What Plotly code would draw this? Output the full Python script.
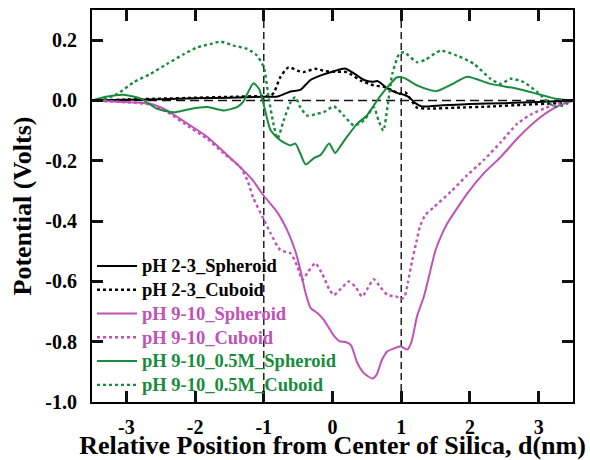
import plotly.graph_objects as go

# ---------------- data ----------------
x_sph23 = [-3.5, -3.0, -2.5, -2.0, -1.5, -1.0, -0.8, -0.61, -0.47, -0.32, -0.17, 0.02, 0.18, 0.31, 0.46, 0.58, 0.66, 0.80, 0.94, 1.05, 1.12, 1.20, 1.30, 1.6, 2.0, 2.5, 3.0, 3.5]
y_sph23 = [0.0, 0.002, 0.004, 0.007, 0.009, 0.012, 0.013, 0.030, 0.035, 0.068, 0.083, 0.097, 0.106, 0.090, 0.068, 0.062, 0.064, 0.040, 0.025, 0.018, 0.010, -0.008, -0.020, -0.016, -0.012, -0.009, -0.005, 0.0]

x_cub23 = [-3.5, -3.0, -2.5, -2.0, -1.5, -1.0, -0.9, -0.85, -0.76, -0.64, -0.51, -0.42, -0.25, -0.10, 0.07, 0.21, 0.41, 0.60, 0.75, 0.90, 0.97, 1.06, 1.14, 1.23, 1.40, 1.8, 2.3, 2.8, 3.27, 3.5]
y_cub23 = [0.0, 0.003, 0.006, 0.009, 0.012, 0.015, 0.016, 0.027, 0.077, 0.110, 0.099, 0.094, 0.105, 0.097, 0.095, 0.094, 0.066, 0.050, 0.045, 0.030, 0.022, 0.027, 0.003, -0.024, -0.027, -0.024, -0.020, -0.014, -0.009, 0.0]

x_sph910 = [-3.5, -3.04, -2.65, -2.41, -2.07, -1.82, -1.58, -1.34, -1.17, -1.0, -0.80, -0.66, -0.54, -0.47, -0.39, -0.32, -0.22, -0.13, -0.05, 0.02, 0.10, 0.20, 0.27, 0.36, 0.46, 0.58, 0.64, 0.72, 0.80, 0.90, 0.99, 1.09, 1.15, 1.23, 1.33, 1.45, 1.50, 1.60, 1.67, 1.96, 2.20, 2.45, 2.71, 3.03, 3.25, 3.5]
y_sph910 = [0.0, -0.005, -0.011, -0.033, -0.083, -0.121, -0.171, -0.222, -0.262, -0.316, -0.372, -0.430, -0.500, -0.560, -0.640, -0.688, -0.705, -0.727, -0.755, -0.780, -0.798, -0.802, -0.812, -0.870, -0.905, -0.922, -0.910, -0.860, -0.832, -0.822, -0.815, -0.826, -0.800, -0.716, -0.650, -0.540, -0.496, -0.440, -0.408, -0.309, -0.242, -0.187, -0.121, -0.055, -0.022, 0.0]

x_cub910 = [-3.5, -3.0, -2.65, -2.41, -2.07, -1.82, -1.58, -1.34, -1.24, -1.15, -1.0, -0.90, -0.76, -0.61, -0.51, -0.44, -0.36, -0.25, -0.15, -0.05, 0.02, 0.12, 0.24, 0.34, 0.43, 0.52, 0.60, 0.70, 0.80, 0.92, 1.01, 1.05, 1.10, 1.16, 1.22, 1.27, 1.35, 1.47, 1.72, 1.96, 2.20, 2.45, 2.69, 2.90, 3.10, 3.30, 3.5]
y_cub910 = [0.0, -0.006, -0.014, -0.038, -0.090, -0.128, -0.176, -0.222, -0.264, -0.325, -0.394, -0.441, -0.496, -0.507, -0.551, -0.595, -0.570, -0.540, -0.575, -0.625, -0.645, -0.625, -0.600, -0.620, -0.650, -0.620, -0.593, -0.620, -0.645, -0.650, -0.658, -0.650, -0.600, -0.530, -0.470, -0.420, -0.380, -0.355, -0.303, -0.248, -0.198, -0.138, -0.077, -0.045, -0.025, -0.010, 0.0]

x_sph05 = [-3.5, -3.3, -3.04, -2.79, -2.55, -2.31, -2.07, -1.82, -1.58, -1.39, -1.30, -1.24, -1.15, -1.07, -1.0, -0.90, -0.76, -0.61, -0.54, -0.47, -0.39, -0.27, -0.17, -0.05, 0.04, 0.12, 0.21, 0.36, 0.50, 0.65, 0.80, 0.94, 1.04, 1.23, 1.40, 1.52, 1.75, 1.96, 2.30, 2.69, 2.98, 3.25, 3.5]
y_sph05 = [0.0, 0.012, 0.019, 0.006, -0.028, -0.039, -0.028, -0.022, -0.033, -0.022, -0.005, 0.022, 0.057, 0.039, -0.015, -0.099, -0.132, -0.149, -0.143, -0.175, -0.212, -0.191, -0.180, -0.143, -0.174, -0.150, -0.121, -0.077, -0.050, 0.000, 0.044, 0.077, 0.075, 0.050, 0.036, 0.031, 0.055, 0.079, 0.055, 0.039, 0.022, 0.006, 0.0]

x_cub05 = [-3.5, -3.35, -3.13, -2.89, -2.65, -2.41, -2.16, -1.97, -1.78, -1.63, -1.44, -1.24, -1.10, -1.0, -0.93, -0.85, -0.80, -0.71, -0.61, -0.54, -0.47, -0.37, -0.22, -0.13, 0.02, 0.165, 0.31, 0.46, 0.60, 0.67, 0.74, 0.80, 0.87, 0.97, 1.04, 1.23, 1.35, 1.57, 1.81, 2.06, 2.30, 2.45, 2.59, 2.78, 2.98, 3.22, 3.35, 3.5]
y_cub05 = [0.0, 0.003, 0.022, 0.061, 0.088, 0.121, 0.154, 0.176, 0.187, 0.195, 0.182, 0.171, 0.149, 0.110, 0.011, -0.088, -0.127, -0.066, -0.006, 0.011, -0.022, -0.050, -0.044, -0.039, -0.020, -0.050, -0.083, -0.066, -0.022, -0.066, -0.100, -0.022, 0.088, 0.154, 0.160, 0.127, 0.135, 0.165, 0.149, 0.121, 0.072, 0.055, 0.072, 0.061, 0.028, -0.020, -0.017, 0.0]

names = ["pH 2-3_Spheroid", "pH 2-3_Cuboid", "pH 9-10_Spheroid", "pH 9-10_Cuboid",
         "pH 9-10_0.5M_Spheroid", "pH 9-10_0.5M_Cuboid"]

# reference lines
zero_x = [-3.5, 3.5]
zero_y = [0.0, 0.0]
boundary_d = [-1.0, 1.0]
y_range = [-1.0, 0.3]
x_range = [-3.5, 3.5]

x_ticks = [-3, -2, -1, 0, 1, 2, 3]
x_ticklabels = ["-3", "-2", "-1", "0", "1", "2", "3"]
x_minor = [-2.5, -1.5, -0.5, 0.5, 1.5, 2.5]
y_ticks = [-1.0, -0.8, -0.6, -0.4, -0.2, 0.0, 0.2]
y_ticklabels = ["-1.0", "-0.8", "-0.6", "-0.4", "-0.2", "0.0", "0.2"]
y_minor = [-0.9, -0.7, -0.5, -0.3, -0.1, 0.1]

# ---------------- style ----------------
BLACK = "#000000"
TICK = "#111111"
MAGENTA = "#c052b6"
GREEN = "#178c3c"
FONT = "Liberation Serif"

fig = go.Figure()

fig.add_trace(go.Scatter(x=zero_x, y=zero_y, mode="lines", showlegend=False,
                         line=dict(color="#111111", width=1.6, dash="9px,5px"), hoverinfo="skip"))
for bd in boundary_d:
    fig.add_trace(go.Scatter(x=[bd, bd], y=y_range, mode="lines", showlegend=False,
                             line=dict(color="#111111", width=1.4, dash="7px,4px"), hoverinfo="skip"))

series = [
    (x_sph23, y_sph23, BLACK, "solid"),
    (x_cub23, y_cub23, BLACK, "dot"),
    (x_sph910, y_sph910, MAGENTA, "solid"),
    (x_cub910, y_cub910, MAGENTA, "dot"),
    (x_sph05, y_sph05, GREEN, "solid"),
    (x_cub05, y_cub05, GREEN, "dot"),
]
for (xs, ys, col, dash), nm in zip(series, names):
    fig.add_trace(go.Scatter(
        x=xs, y=ys, mode="lines",
        name=f"<b><span style='color:{col};font-size:18.5px'>{nm}</span></b>",
        line=dict(color=col, width=2.0 if dash == "solid" else 2.4, dash=dash,
                  shape="spline", smoothing=0.6),
    ))

# primary axes: frame, labels, titles (inside ticks mirrored on all sides)
fig.update_xaxes(
    range=x_range, tickmode="array", tickvals=x_ticks,
    ticktext=[f"<b>{t}</b>" for t in x_ticklabels],
    showline=True, linecolor=BLACK, linewidth=2, mirror="allticks",
    ticks="inside", ticklen=11, tickwidth=3, tickcolor=TICK,
    showgrid=False, zeroline=False, automargin=False,
    ticklabelstandoff=6,
    tickfont=dict(family=FONT, size=20, color="black"),
    title=dict(text="<b>Relative Position from Center of Silica, d(nm)</b>",
               font=dict(family=FONT, size=26, color="black"), standoff=8),
)
fig.update_yaxes(
    range=y_range, tickmode="linear", tick0=0, dtick=0.2,
    showline=True, linecolor=BLACK, linewidth=2, mirror="allticks",
    ticks="inside", ticklen=11, tickwidth=3, tickcolor=TICK,
    showgrid=False, zeroline=False, automargin=False,
    tickvals=y_ticks, ticktext=[f"<b>{t}</b>" for t in y_ticklabels],
    ticklabelstandoff=9,
    tickfont=dict(family=FONT, size=20, color="black"),
    title=dict(text="<b>Potential (Volts)</b>",
               font=dict(family=FONT, size=26, color="black"), standoff=6),
)
fig.update_yaxes(tickmode="array")


# tick-only axes sitting on the frame; their "outside" ticks point into the plot
def tick_axis(over, side, pos, rng, vals, length):
    return dict(overlaying=over, side=side, anchor="free", position=pos, range=rng,
                tickmode="array", tickvals=vals, showticklabels=False,
                showline=False, showgrid=False, zeroline=False, automargin=False,
                ticks="outside", ticklen=length, tickwidth=3, tickcolor=TICK)


fig.update_layout(
    xaxis2=tick_axis("x", "top", 0, x_range, x_ticks, 11),
    xaxis4=tick_axis("x", "top", 0, x_range, x_minor, 7),
    xaxis5=tick_axis("x", "bottom", 1, x_range, x_minor, 6),
    yaxis2=tick_axis("y", "right", 0, y_range, y_ticks, 11),
    yaxis4=tick_axis("y", "right", 0, y_range, y_minor, 8),
    yaxis5=tick_axis("y", "left", 1, y_range, y_minor, 11),
)

fig.update_layout(
    width=590, height=460,
    margin=dict(l=92, r=17, t=10, b=58),
    paper_bgcolor="white", plot_bgcolor="rgba(0,0,0,0)",
    font=dict(family=FONT, color="black"),
    showlegend=True,
    legend=dict(
        x=0.0, y=0.0, xanchor="left", yanchor="bottom",
        bgcolor="rgba(0,0,0,0)", borderwidth=0,
        font=dict(family=FONT, size=16),
        itemwidth=40, tracegroupgap=0,
    ),
)

fig.write_html("out.html")
